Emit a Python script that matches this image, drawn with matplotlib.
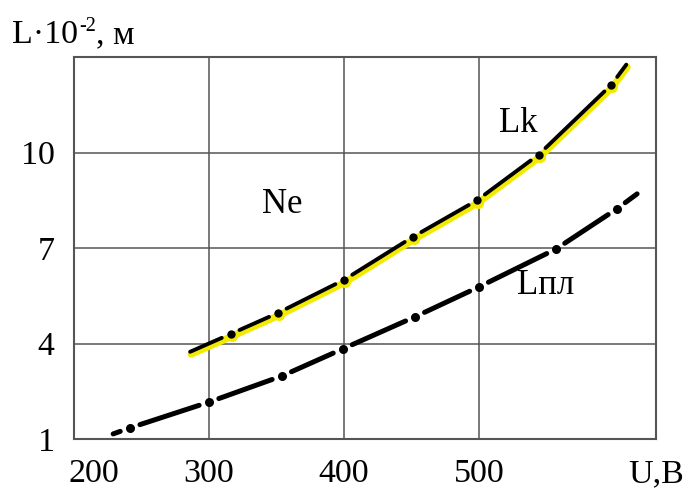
import matplotlib
matplotlib.use("Agg")
import matplotlib.pyplot as plt
from matplotlib.transforms import ScaledTranslation, offset_copy

plt.rcParams['font.family'] = ['Liberation Serif', 'DejaVu Serif']

# Lпл curve: line start, measured points, line end
U_pl = [229, 241.5, 300, 354, 399, 452.6, 500, 557, 602, 617]
L_pl = [1.16, 1.35, 2.16, 2.98, 3.83, 4.84, 5.78, 6.97, 8.23, 8.70]

# Lk curve (Ne): line start, measured points, line end
U_k = [286, 316, 351, 400, 451, 498.5, 544, 598, 609]
L_k = [3.74, 4.30, 4.96, 6.00, 7.35, 8.50, 9.93, 12.13, 12.76]

x_ticks = [300, 400, 500]
y_ticks = [1, 4, 7, 10]

W, H = 688, 488
fig = plt.figure(figsize=(W / 100, H / 100), dpi=100)
ax = fig.add_axes([74 / W, 1 - 439 / H, (656 - 74) / W, (439 - 57) / H])
ax.set_xlim(200, 631)
ax.set_ylim(1, 13)

grid_c = '#555555'
for s in ax.spines.values():
    s.set_color(grid_c)
    s.set_linewidth(1.5)
ax.set_xticks([200] + x_ticks)
ax.set_yticks(y_ticks)
ax.set_xticklabels([''] + [str(v) for v in x_ticks])
ax.set_yticklabels([str(v) for v in y_ticks])
XPAD = 14
ax.tick_params(length=0, labelsize=24.5, colors='black')
ax.tick_params(axis='x', pad=XPAD)
ax.tick_params(axis='y', pad=14)
ax.grid(True, color=grid_c, lw=1.1)
ax.set_axisbelow(True)

# extra x-axis labels: 200 shifted inward, unit label at the right end
xt = ax.get_xaxis_transform()
ax.text(200, 0, '200', fontsize=24.5, ha='center', va='top',
        transform=xt + ScaledTranslation(20 / 100, -XPAD / 72, fig.dpi_scale_trans),
        clip_on=False)
ax.text(631, 0, 'U,B', fontsize=24.5, ha='center', va='top',
        transform=xt + ScaledTranslation(0, -XPAD / 72, fig.dpi_scale_trans),
        clip_on=False)


def dash_dot(xs, ys, lw, color, gap, ms, z=3):
    """Segments between points with gaps around each interior point."""
    n = len(xs)
    for i in range(n - 1):
        sa = gap if i > 0 else 0
        sb = gap if i + 1 < n - 1 else 0
        ax.annotate('', xy=(xs[i + 1], ys[i + 1]), xytext=(xs[i], ys[i]),
                    arrowprops=dict(arrowstyle='-', lw=lw, color=color,
                                    shrinkA=sa, shrinkB=sb, capstyle='round'),
                    zorder=z)
    ax.plot(xs[1:-1], ys[1:-1], 'o', color=color, ms=ms, mew=0, zorder=z)


# yellow underlay for Lk, shifted slightly
yel_tr = offset_copy(ax.transData, fig=fig, x=1, y=-2.5, units='dots')
ax.plot(U_k, L_k, color='#f2ea00', lw=5, solid_capstyle='round',
        transform=yel_tr, zorder=2)
ax.plot(U_k[1:-1], L_k[1:-1], 'o', color='#f2ea00', ms=8, mew=0,
        transform=yel_tr, zorder=2)

dash_dot(U_k, L_k, lw=2.8, color='black', gap=7, ms=6)
dash_dot(U_pl, L_pl, lw=3.6, color='black', gap=7.5, ms=6.5)

ax.text(354, 8.36, 'Ne', fontsize=25, ha='center', va='center')
ax.text(529, 10.9, 'Lk', fontsize=25, ha='center', va='center')
ax.text(549.6, 5.81, 'Lпл', fontsize=25, ha='center', va='center')

# y-axis title with superscript exponent
r = fig.canvas.get_renderer()
t1 = fig.text(12 / W, 1 - 43 / H, 'L·10', fontsize=24.5, va='baseline')
bb = t1.get_window_extent(r)
t2 = fig.text((bb.x1 + 1) / W, 1 - 31 / H, '-2', fontsize=14.5, va='baseline')
bb2 = t2.get_window_extent(r)
fig.text((bb2.x1 + 0) / W, 1 - 43 / H, ', м', fontsize=24.5, va='baseline')

fig.savefig('out.png', dpi=100)
